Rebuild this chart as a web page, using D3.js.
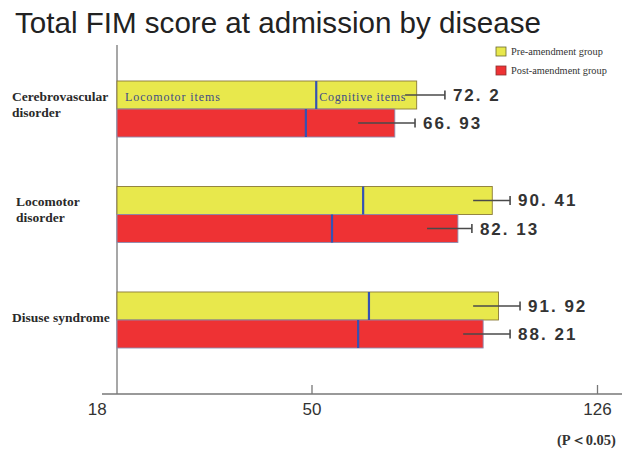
<!DOCTYPE html>
<html>
<head>
<meta charset="utf-8">
<script src="https://cdn.jsdelivr.net/npm/d3@7"></script>
<style>
  html, body { margin: 0; padding: 0; background: #fff; }
  svg { display: block; }
</style>
</head>
<body>
<svg id="chart" width="622" height="452"></svg>
<script>
// ---------------- data ----------------
const title = "Total FIM score at admission by disease";
const categories = ["Cerebrovascular disorder", "Locomotor disorder", "Disuse syndrome"];
const categoryLines = [["Cerebrovascular", "disorder"], ["Locomotor", "disorder"], ["Disuse syndrome"]];
const seriesNames = ["Pre-amendment group", "Post-amendment group"];
const preTotal  = [72.2, 90.41, 91.92];
const postTotal = [66.93, 82.13, 88.21];
const preMotor  = [48.0, 59.3, 60.7];   // locomotor-items subtotal (blue divider)
const postMotor = [45.5, 51.8, 58.1];
const preErrLow   = [69.4, 85.8, 85.8];
const preErrHigh  = [79.0, 94.7, 97.1];
const postErrLow  = [58.1, 74.7, 83.4];
const postErrHigh = [71.8, 85.5, 94.7];
const tickValues = [18, 50, 126];
const segmentLabels = ["Locomotor items", "Cognitive items"];
const noteText = "(P\uFF1C0.05)";

// ---------------- layout ----------------
const W = 622, H = 452;
const colors = ["#e8e84c", "#ee3234"];
const strokes = ["#8a7a38", "#8c8cb0"];
const labelIndent = [0, 4, 0];

const svg = d3.select("#chart");

const xBar = d3.scaleLinear().domain([0, 126]).range([117, 640]);
const xAxisScale = d3.scaleLinear().domain(tickValues).range([96.7, 311.5, 597]);
const yGroup = d3.scaleBand().domain(categories).range([81, 348]).paddingInner(0.469).paddingOuter(0);
const ySeries = d3.scaleBand().domain(seriesNames).range([0, yGroup.bandwidth()]).padding(0);

const rows = [];
categories.forEach((c, i) => {
  rows.push({cat: c, s: seriesNames[0], si: 0, total: preTotal[i], motor: preMotor[i], lo: preErrLow[i], hi: preErrHigh[i]});
  rows.push({cat: c, s: seriesNames[1], si: 1, total: postTotal[i], motor: postMotor[i], lo: postErrLow[i], hi: postErrHigh[i]});
});

// title
svg.append("text")
  .attr("x", 15).attr("y", 33)
  .attr("font-family", "Liberation Sans, Arial, sans-serif")
  .attr("font-size", 29)
  .attr("fill", "#222")
  .attr("textLength", 526).attr("lengthAdjust", "spacingAndGlyphs")
  .text(title);

// y axis line
svg.append("line")
  .attr("x1", xBar(0)).attr("x2", xBar(0))
  .attr("y1", 45).attr("y2", 394)
  .attr("stroke", "#8a8a8a").attr("stroke-width", 1.5);

// x axis
const axisG = svg.append("g").attr("transform", "translate(0,394)")
  .call(d3.axisBottom(xAxisScale).tickValues(tickValues).tickSizeInner(-9).tickSizeOuter(0).tickFormat(d3.format("d")));
axisG.select(".domain").remove();
axisG.selectAll(".tick line").attr("stroke", "#777").attr("stroke-width", 1.3)
  .attr("display", d => d === tickValues[0] ? "none" : null);
axisG.selectAll(".tick text")
  .attr("y", 21).attr("dy", 0)
  .attr("font-family", "Liberation Sans, Arial, sans-serif")
  .attr("font-size", 17).attr("fill", "#333");
svg.append("line")
  .attr("x1", 102).attr("x2", W).attr("y1", 394).attr("y2", 394)
  .attr("stroke", "#777").attr("stroke-width", 1.5);

// bars
const barG = svg.append("g");
barG.selectAll("rect.bar").data(rows).join("rect")
  .attr("class", "bar")
  .attr("x", xBar(0))
  .attr("y", d => yGroup(d.cat) + ySeries(d.s))
  .attr("width", d => xBar(d.total) - xBar(0))
  .attr("height", ySeries.bandwidth())
  .attr("fill", d => colors[d.si])
  .attr("stroke", d => strokes[d.si]).attr("stroke-width", 0.9);

// dividers (locomotor / cognitive)
barG.selectAll("line.div").data(rows).join("line")
  .attr("class", "div")
  .attr("x1", d => xBar(d.motor)).attr("x2", d => xBar(d.motor))
  .attr("y1", d => yGroup(d.cat) + ySeries(d.s))
  .attr("y2", d => yGroup(d.cat) + ySeries(d.s) + ySeries.bandwidth())
  .attr("stroke", "#3452b4").attr("stroke-width", 2.2);

// segment labels in first bar
const first = rows[0];
const firstCy = yGroup(first.cat) + ySeries(first.s) + ySeries.bandwidth() / 2;
svg.append("text").attr("x", xBar(0) + 8).attr("y", firstCy + 6)
  .attr("font-family", "Liberation Serif, Times New Roman, serif").attr("font-size", 12)
  .attr("letter-spacing", 0.9).attr("fill", "#3e4c86").text(segmentLabels[0]);
svg.append("text").attr("x", xBar(first.motor) + 3).attr("y", firstCy + 6)
  .attr("font-family", "Liberation Serif, Times New Roman, serif").attr("font-size", 12)
  .attr("letter-spacing", 0.7).attr("fill", "#3e4c86").text(segmentLabels[1]);

// error bars
const errG = svg.append("g");
rows.forEach(d => {
  const cy = yGroup(d.cat) + ySeries(d.s) + ySeries.bandwidth() / 2;
  errG.append("line").attr("x1", xBar(d.lo)).attr("x2", xBar(d.hi)).attr("y1", cy).attr("y2", cy)
    .attr("stroke", "#4a4a4a").attr("stroke-width", 1.6);
  errG.append("line").attr("x1", xBar(d.hi)).attr("x2", xBar(d.hi)).attr("y1", cy - 4.5).attr("y2", cy + 4.5)
    .attr("stroke", "#4a4a4a").attr("stroke-width", 1.6);
  errG.append("text").attr("x", xBar(d.hi) + 8).attr("y", cy + 6)
    .attr("font-family", "Liberation Sans, Arial, sans-serif").attr("font-size", 17).attr("font-weight", "bold")
    .attr("letter-spacing", 2).attr("fill", "#333")
    .text(String(d.total).replace(".", ". "));
});

// category labels
categories.forEach((c, i) => {
  const lines = categoryLines[i];
  const cy = yGroup(c) + yGroup.bandwidth() / 2;
  const t = svg.append("text")
    .attr("font-family", "Liberation Serif, Times New Roman, serif")
    .attr("font-size", 13.5).attr("font-weight", "bold").attr("fill", "#2a2a2a");
  lines.forEach((ln, j) => {
    t.append("tspan").attr("x", 12 + labelIndent[i])
      .attr("y", cy + 2 - (lines.length - 1) * 10.5 + j * 16).text(ln);
  });
});

// legend
const lg = svg.append("g");
seriesNames.forEach((s, i) => {
  lg.append("rect").attr("x", 496).attr("y", 47 + i * 19).attr("width", 10).attr("height", 9)
    .attr("fill", colors[i]).attr("stroke", i === 0 ? "#6a6a30" : "#8a3030").attr("stroke-width", 0.8);
  lg.append("text").attr("x", 511).attr("y", 55 + i * 19)
    .attr("font-family", "Liberation Serif, Times New Roman, serif").attr("font-size", 10.3)
    .attr("fill", "#333").text(s);
});

// note
svg.append("text").attr("x", 557).attr("y", 445)
  .attr("font-family", "Liberation Serif, Times New Roman, serif").attr("font-size", 14.5).attr("font-weight", "bold")
  .attr("fill", "#333").text(noteText);
</script>
</body>
</html>
